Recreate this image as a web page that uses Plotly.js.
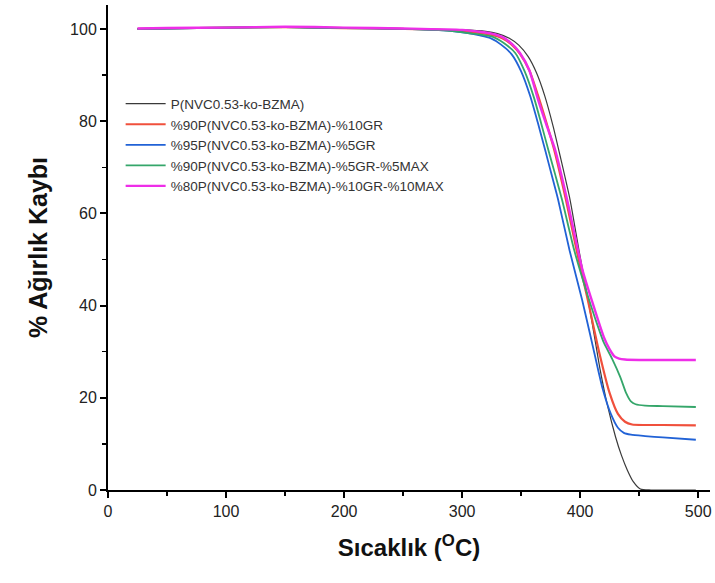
<!DOCTYPE html>
<html>
<head>
<meta charset="utf-8">
<script src="https://cdn.plot.ly/plotly-3.0.1.min.js"></script>
<style>html,body{margin:0;padding:0;background:#fff;}#chart{width:715px;height:583px;}</style>
</head>
<body>
<div id="chart"></div>
<script>
// Series names
const names = [
  "P(NVC0.53-ko-BZMA)",
  "%90P(NVC0.53-ko-BZMA)-%10GR",
  "%95P(NVC0.53-ko-BZMA)-%5GR",
  "%90P(NVC0.53-ko-BZMA)-%5GR-%5MAX",
  "%80P(NVC0.53-ko-BZMA)-%10GR-%10MAX"
];

// P(NVC0.53-ko-BZMA)
const xBlack = [25, 50, 100, 150, 200, 250, 300, 320, 330, 340, 348, 356, 363, 370, 377, 383, 391.5, 399, 406.8, 412, 417, 423, 430, 435, 440, 445, 451, 460, 480, 498];
const yBlack = [100.0, 100.1, 100.3, 100.4, 100.2, 100.0, 99.8, 99.5, 99.0, 98.0, 96.5, 94.0, 90.5, 85.5, 79.0, 72.5, 62.9, 52.0, 41.2, 33.5, 26.0, 18.5, 11.5, 7.5, 4.3, 1.8, 0.2, 0.0, 0.0, 0.0];

// %90 ... %10GR (red)
const xRed = [25, 50, 100, 150, 200, 250, 300, 315, 325, 334, 342, 349, 357, 364, 371, 378, 388, 397, 406.5, 416, 425, 432, 438, 444, 455, 470, 498];
const yRed = [100.0, 100.1, 100.3, 100.4, 100.2, 100.0, 99.6, 99.1, 98.7, 98.0, 96.6, 94.6, 91.0, 85.8, 80.0, 73.8, 62.9, 52.0, 41.2, 30.0, 21.0, 16.5, 14.8, 14.2, 14.1, 14.1, 14.0];

// %95 ... %5GR (blue)
const xBlue = [25, 50, 100, 150, 200, 250, 290, 305, 315, 324, 333, 342, 350, 357.6, 364, 370.3, 376, 381.4, 391, 401.7, 410, 419, 426, 432, 437, 443, 455, 470, 498];
const yBlue = [100.0, 100.1, 100.3, 100.4, 100.2, 100.0, 99.6, 99.1, 98.6, 98.0, 96.6, 94.5, 90.8, 85.5, 79.8, 73.8, 68.2, 62.9, 52.0, 41.2, 32.0, 22.0, 16.5, 13.5, 12.4, 12.0, 11.7, 11.4, 10.9];

// %90 ... %5GR-%5MAX (green)
const xGreen = [25, 50, 100, 150, 200, 250, 290, 305, 315, 326, 335, 345, 353, 361, 367, 373, 379, 384.7, 395, 406, 413, 420, 427, 434, 439, 443, 447, 455, 470, 498];
const yGreen = [100.0, 100.1, 100.3, 100.4, 100.2, 100.0, 99.6, 99.1, 98.8, 98.3, 97.0, 94.8, 90.8, 85.0, 79.5, 73.8, 68.3, 62.9, 52.0, 42.5, 37.0, 32.0, 28.5, 24.5, 21.0, 19.2, 18.6, 18.3, 18.2, 18.0];

// %80 ... %10GR-%10MAX (magenta)
const xPink = [25, 50, 100, 150, 200, 250, 300, 315, 325, 334, 342, 349, 357, 364.4, 371, 378.8, 389, 396, 402, 410, 420, 425, 429, 433, 438, 450, 470, 498];
const yPink = [100.1, 100.2, 100.3, 100.5, 100.3, 100.1, 99.8, 99.4, 99.0, 98.3, 96.8, 94.8, 91.0, 84.6, 79.5, 73.8, 62.9, 54.5, 47.7, 41.0, 33.2, 30.5, 29.0, 28.5, 28.3, 28.2, 28.2, 28.2];

const xTicks = [0, 100, 200, 300, 400, 500];
const yTicks = [0, 20, 40, 60, 80, 100];

const colors = ["#3a3a3a", "#f0503c", "#2162d6", "#35a66a", "#ee2ee8"];
const widths = [1.2, 2.2, 1.8, 1.8, 2.4];
const xs = [xBlack, xRed, xBlue, xGreen, xPink];
const ys = [yBlack, yRed, yBlue, yGreen, yPink];

const traces = names.map((n, i) => ({
  type: "scatter",
  mode: "lines",
  name: n,
  x: xs[i],
  y: ys[i],
  line: {color: colors[i], width: widths[i], shape: "spline", smoothing: 0.6}
}));

const axisFont = {family: "Liberation Sans, Arial, sans-serif", size: 16, color: "#222"};

const layout = {
  width: 715,
  height: 583,
  margin: {l: 108, r: 5, t: 5, b: 93},
  paper_bgcolor: "#fff",
  plot_bgcolor: "#fff",
  showlegend: true,
  legend: {
    x: 0.021, y: 0.828, xanchor: "left", yanchor: "top",
    bgcolor: "rgba(0,0,0,0)",
    font: {family: "Liberation Sans, Arial, sans-serif", size: 13.5, color: "#333"},
    tracegroupgap: 0,
    itemwidth: 40
  },
  xaxis: {
    range: [0, 510],
    tickvals: xTicks,
    ticktext: xTicks.map(String),
    ticks: "outside", ticklen: 6, tickwidth: 2, tickcolor: "#000",
    minor: {dtick: 50, tick0: 0, ticks: "outside", ticklen: 4, tickwidth: 1.5, tickcolor: "#000"},
    showline: true, linecolor: "#000", linewidth: 2,
    showgrid: false, zeroline: false,
    tickfont: axisFont,
    title: {text: "<b>Sıcaklık (<sup>O</sup>C)</b>", font: {family: "Liberation Sans, Arial, sans-serif", size: 24, color: "#111"}, standoff: 20}
  },
  yaxis: {
    range: [0, 105.2],
    tickvals: yTicks,
    ticktext: yTicks.map(String),
    ticks: "outside", ticklen: 6, tickwidth: 2, tickcolor: "#000",
    minor: {dtick: 10, tick0: 0, ticks: "outside", ticklen: 4, tickwidth: 1.5, tickcolor: "#000"},
    showline: true, linecolor: "#000", linewidth: 2,
    showgrid: false, zeroline: false,
    tickfont: axisFont,
    title: {text: "<b>% Ağırlık Kaybı</b>", font: {family: "Liberation Sans, Arial, sans-serif", size: 25, color: "#111"}, standoff: 15}
  }
};

Plotly.newPlot("chart", traces, layout, {displayModeBar: false, staticPlot: true});
</script>
</body>
</html>
